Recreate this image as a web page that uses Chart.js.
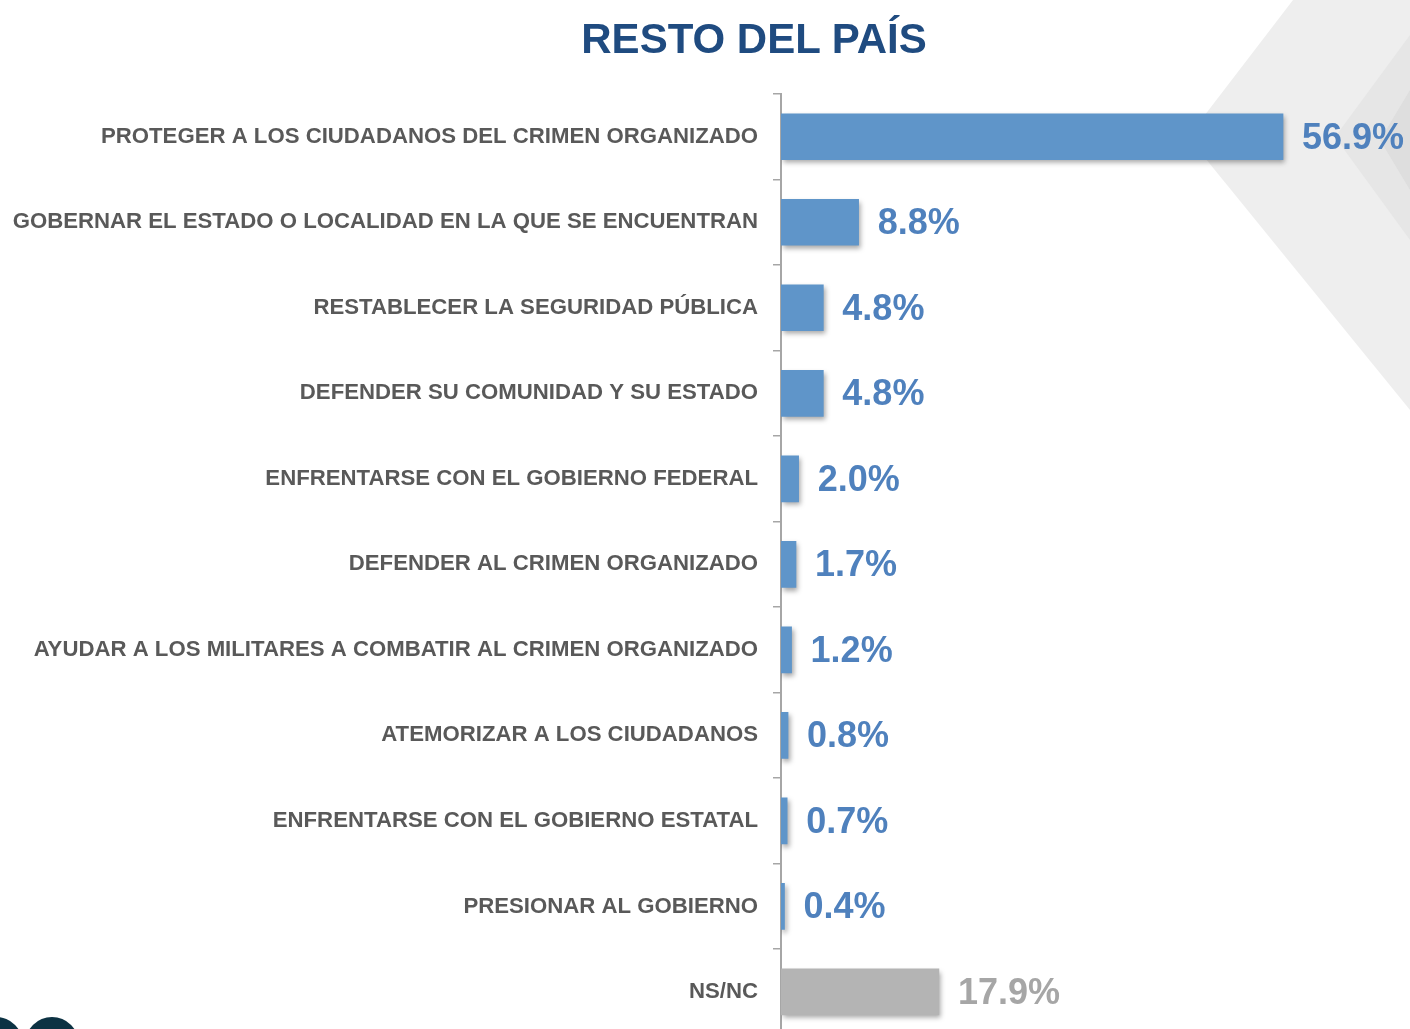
<!DOCTYPE html>
<html>
<head>
<meta charset="utf-8">
<script src="https://cdn.jsdelivr.net/npm/chart.js@4.4.1/dist/chart.umd.min.js"></script>
<style>
  html, body { margin: 0; padding: 0; background: #ffffff; overflow: hidden; width: 1410px; height: 1029px; }
  #wrap { position: relative; width: 1410px; height: 1063px; }
  #title { position: absolute; left: 0; top: 15px; width: 1508px; text-align: center;
           font-family: "Liberation Sans", Arial, sans-serif; font-weight: bold; font-size: 42px;
           color: #1F4B80; margin: 0; letter-spacing: 0px; z-index: 2; }
  canvas { position: absolute; left: 0; top: 0; }
</style>
</head>
<body>
<div id="wrap">
  <canvas id="c" width="1410" height="1063"></canvas>
  <h1 id="title">RESTO DEL PAÍS</h1>
</div>
<script>
const categories = [
  "PROTEGER A LOS CIUDADANOS DEL CRIMEN ORGANIZADO",
  "GOBERNAR EL ESTADO O LOCALIDAD EN LA QUE SE ENCUENTRAN",
  "RESTABLECER LA SEGURIDAD PÚBLICA",
  "DEFENDER SU COMUNIDAD Y SU ESTADO",
  "ENFRENTARSE CON EL GOBIERNO FEDERAL",
  "DEFENDER AL CRIMEN ORGANIZADO",
  "AYUDAR A LOS MILITARES A COMBATIR AL CRIMEN ORGANIZADO",
  "ATEMORIZAR A LOS CIUDADANOS",
  "ENFRENTARSE CON EL GOBIERNO ESTATAL",
  "PRESIONAR AL GOBIERNO",
  "NS/NC"
];
const values = [56.9, 8.8, 4.8, 4.8, 2.0, 1.7, 1.2, 0.8, 0.7, 0.4, 17.9];
const barColors = ["#5F95C9","#5F95C9","#5F95C9","#5F95C9","#5F95C9","#5F95C9","#5F95C9","#5F95C9","#5F95C9","#5F95C9","#B4B4B4"];
const labelColors = ["#4F81BD","#4F81BD","#4F81BD","#4F81BD","#4F81BD","#4F81BD","#4F81BD","#4F81BD","#4F81BD","#4F81BD","#A6A6A6"];

const bgPlugin = {
  id: 'bg',
  beforeDraw(chart) {
    const ctx = chart.ctx;
    ctx.save();
    ctx.fillStyle = '#EEEEEE';
    ctx.beginPath();
    ctx.moveTo(1293, 0); ctx.lineTo(1410, 0); ctx.lineTo(1410, 410); ctx.lineTo(1188, 137); ctx.closePath();
    ctx.fill();
    ctx.fillStyle = '#E6E6E6';
    ctx.beginPath();
    ctx.moveTo(1410, 35); ctx.lineTo(1410, 240); ctx.lineTo(1335, 137); ctx.closePath();
    ctx.fill();
    ctx.fillStyle = '#DEDEDE';
    ctx.beginPath();
    ctx.moveTo(1410, 90); ctx.lineTo(1410, 190); ctx.lineTo(1380, 140); ctx.closePath();
    ctx.fill();
    ctx.fillStyle = '#0C3243';
    ctx.beginPath(); ctx.arc(-4, 1044, 27, 0, Math.PI * 2); ctx.fill();
    ctx.beginPath(); ctx.arc(52, 1044, 27, 0, Math.PI * 2); ctx.fill();
    ctx.restore();
  }
};

const shadowLabelPlugin = {
  id: 'shadowLabels',
  beforeDatasetsDraw(chart) {
    const ctx = chart.ctx;
    ctx.save();
    ctx.shadowColor = 'rgba(0,0,0,0.35)';
    ctx.shadowBlur = 5;
    ctx.shadowOffsetX = 2;
    ctx.shadowOffsetY = 3;
  },
  afterDatasetsDraw(chart) {
    const ctx = chart.ctx;
    ctx.restore();
    const meta = chart.getDatasetMeta(0);
    ctx.save();
    ctx.font = 'bold 36px "Liberation Sans", Arial, sans-serif';
    ctx.textAlign = 'left';
    ctx.textBaseline = 'middle';
    meta.data.forEach((bar, i) => {
      ctx.fillStyle = labelColors[i];
      ctx.fillText(values[i].toFixed(1) + '%', bar.x + 19, bar.y + 2);
    });
    ctx.restore();
  }
};

new Chart(document.getElementById('c'), {
  type: 'bar',
  data: {
    labels: categories,
    datasets: [{
      data: values,
      backgroundColor: barColors,
      borderWidth: 0,
      barThickness: 46
    }]
  },
  options: {
    indexAxis: 'y',
    responsive: false,
    animation: false,
    layout: { padding: { top: 94, bottom: 4.4, left: 0, right: 11.4 } },
    plugins: { legend: { display: false }, tooltip: { enabled: false }, title: { display: false } },
    scales: {
      x: { display: false, min: 0, max: 70 },
      y: {
        afterFit(scale) { scale.width = 781; },
        border: { display: true, color: '#A6A6A6', width: 2 },
        grid: { display: true, drawOnChartArea: false, drawTicks: true, tickLength: 8, color: '#A6A6A6', lineWidth: 1.5, offset: true },
        ticks: {
          color: '#595959',
          padding: 15,
          font: { family: '"Liberation Sans", Arial, sans-serif', size: 22.2, weight: 'bold' },
          autoSkip: false
        }
      }
    }
  },
  plugins: [bgPlugin, shadowLabelPlugin]
});
</script>
</body>
</html>
